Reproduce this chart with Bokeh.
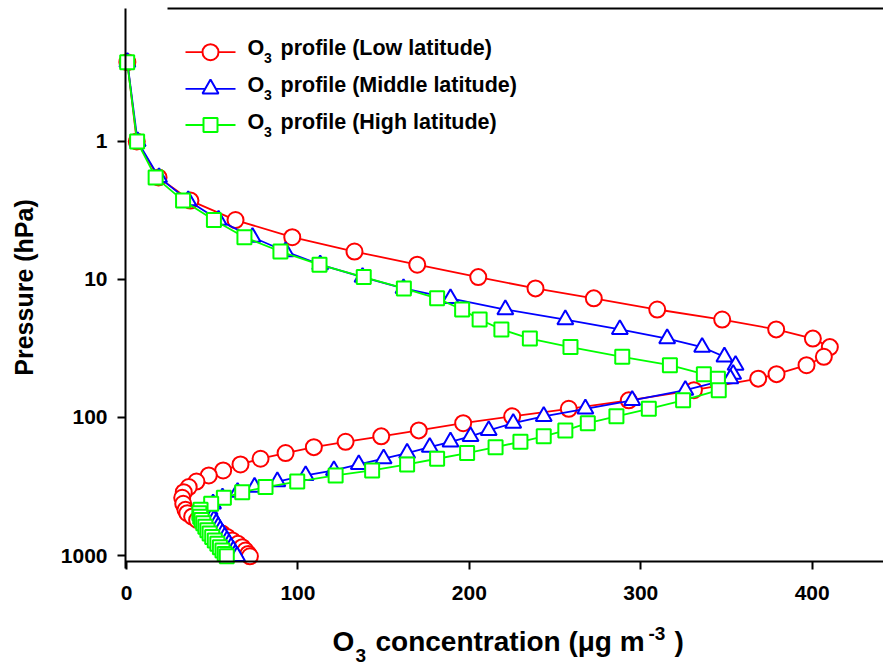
import math
from bokeh.plotting import figure
from bokeh.models import (Range1d, LinearScale, FixedTicker, BasicTickFormatter,
                          LinearAxis, LogAxis, Label)
from bokeh.embed import file_html
from bokeh.resources import INLINE

# ---------------- data ----------------
pressure_hpa = [0.266, 1.0, 1.82, 2.68, 3.71, 4.94, 6.27, 7.81, 9.61, 11.6,
                13.7, 16.5, 19.5, 23.0, 26.8, 30.9, 36.3, 41.8, 48.5, 52.3,
                63.4, 75.1, 86.5, 98.0, 110, 124, 137, 150, 164, 181,
                199, 219, 242, 263, 291, 319, 348, 382, 422, 467,
                494, 523, 553, 585, 619, 656, 694, 734, 777, 823,
                871, 921, 975, 1013]

o3_low = [0.5, 6, 18.7, 37.3, 63.6, 96.7, 133, 169.6, 205.2, 238.6,
          272.6, 309.6, 347.5, 379, 400.4, 410.3, 406.8, 396.7, 379.2, 368.5,
          331, 293, 258, 225, 196.4, 170.5, 148.6, 127.8, 109.3, 92.8,
          78.2, 66.5, 56.4, 48, 40.8, 36.3, 33.4, 32.5, 33.1, 34.4,
          35.5, 38.3, 41.2, 44.7, 48, 51.9, 55.8, 58.7, 61.7, 65,
          67.5, 69.4, 71, 72]

o3_mid = [0.5, 6.5, 19, 36, 53.7, 73.5, 92.8, 113, 137.7, 161.6,
          189, 221, 256, 287.8, 315.4, 335.8, 348.8, 355.3, 353.9, 352.3,
          326, 295, 267.7, 243.4, 225.6, 211.3, 200.7, 189, 176.9, 163.7,
          150, 135.5, 121, 104.5, 88, 74.7, 64.8, 56, 50.5, 48.5,
          49, 50, 51, 52.3, 53.5, 54.7, 56, 57.3, 58.6, 59.8,
          61, 62.3, 63.5, 64.5]

o3_high = [0.4, 6.2, 17, 33, 51, 68.8, 89.8, 112.6, 138.4, 161.8,
           181.2, 195.8, 206, 218.7, 235.3, 259, 289.2, 317, 336.8, 345,
           345.5, 324.7, 304.7, 285.8, 269.1, 256, 243.4, 229.8, 215.3, 198.7,
           181.2, 163.7, 143.3, 122, 99.6, 81.1, 67.5, 56.8, 49.4, 43.2,
           42.5, 43, 43.8, 44.8, 46, 47.2, 48.5, 50, 51.5, 53,
           54.5, 56, 57.3, 58.5]

series_names = ["profile (Low latitude)", "profile (Middle latitude)", "profile (High latitude)"]
x_ticks = [0, 100, 200, 300, 400]
y_ticks = [1, 10, 100, 1000]

# axis extents (data units) of the drawn box
X_MIN, X_MAX = -0.58, 441.6
Y_TOP, Y_BOTTOM = 0.1087, 1105.6
TOP_LINE_START = 23.9          # the top border starts a little right of the y axis
LEFT_LINE_END = 1243.0         # the y axis line pokes slightly below the x axis

# ---------------- figure ----------------
# The frame covers the whole canvas; the axes are placed at fixed data
# locations so that titles and legend text can live inside the frame.
W, H = 883, 666
FONT = "Liberation Sans"
BASE_K = 0.39   # correction: Bokeh's label anchor sits ~0.39*size below the glyph baseline

p = figure(width=W, height=H, output_backend="svg", toolbar_location=None,
           y_axis_type="log", x_axis_location=None, y_axis_location=None,
           x_range=Range1d(-73.50, 441.60), y_range=Range1d(6373.0, 0.09512),
           min_border=0, min_border_left=0, min_border_right=0,
           min_border_top=0, min_border_bottom=0)
p.outline_line_color = None
p.grid.visible = False
p.background_fill_color = "white"
p.border_fill_color = "white"

# pixel helper ranges for annotation placement
p.extra_x_ranges = {"px": Range1d(0, W)}
p.extra_y_ranges = {"px": Range1d(H, 0)}
p.extra_y_scales = {"px": LinearScale()}


def style_axis(ax):
    ax.axis_line_width = 2
    ax.axis_line_color = "black"
    ax.major_tick_line_width = 2
    ax.major_tick_line_color = "black"
    ax.major_tick_in = 0
    ax.major_tick_out = 8
    ax.minor_tick_line_color = None
    ax.major_label_text_font = FONT
    ax.major_label_text_font_style = "bold"
    ax.major_label_text_font_size = "21px"
    ax.major_label_text_color = "black"


xaxis = LinearAxis(ticker=FixedTicker(ticks=x_ticks), fixed_location=Y_BOTTOM,
                   bounds=(X_MIN, X_MAX), major_label_standoff=16)
style_axis(xaxis)
p.add_layout(xaxis, "below")

yaxis = LogAxis(ticker=FixedTicker(ticks=y_ticks, minor_ticks=[]),
                formatter=BasicTickFormatter(use_scientific=False),
                fixed_location=X_MIN, bounds=(Y_TOP, LEFT_LINE_END),
                major_label_standoff=10)
style_axis(yaxis)
p.add_layout(yaxis, "left")

top_axis = LinearAxis(ticker=FixedTicker(ticks=[]), fixed_location=Y_TOP,
                      bounds=(TOP_LINE_START, X_MAX), axis_line_width=2,
                      axis_line_color="black", major_tick_line_color=None,
                      minor_tick_line_color=None)
p.add_layout(top_axis, "above")

# ---------------- data series ----------------
styles = [
    dict(color="#FF0000", marker="circle", size=16),
    dict(color="#0000FF", marker="triangle", size=16),
    dict(color="#00FF00", marker="square", size=14),
]
for vals, st in zip([o3_low, o3_mid, o3_high], styles):
    p.line(vals, pressure_hpa, line_color=st["color"], line_width=1.8)
    p.scatter(vals, pressure_hpa, marker=st["marker"], size=st["size"],
              line_color=st["color"], line_width=2, fill_color="white")


def add_text(txt, x, y, fs, rotated=False, align="left"):
    """Place text so that its glyph baseline lands at pixel (x, y)."""
    if rotated:
        x, angle = x - BASE_K * fs, math.pi / 2
    else:
        y, angle = y - BASE_K * fs, 0.0
    p.add_layout(Label(x=x, y=y, x_range_name="px", y_range_name="px",
                       text=txt, text_font=FONT, text_font_style="bold",
                       text_font_size=f"{fs}px", text_color="black",
                       angle=angle, text_align=align,
                       text_baseline="alphabetic"))


# ---------------- legend (manual, pixel coords) ----------------
leg_line_y = [51.7, 88.3, 124.5]
leg_base = [56, 92.5, 129.5]
for st, ly, bl, name in zip(styles, leg_line_y, leg_base, series_names):
    p.line([185, 235], [ly, ly], x_range_name="px", y_range_name="px",
           line_color=st["color"], line_width=1.8)
    p.scatter([210], [ly], x_range_name="px", y_range_name="px",
              marker=st["marker"], size=st["size"], line_color=st["color"],
              line_width=2, fill_color="white")
    add_text("O", 247, bl, 21.5)
    add_text("3", 263.5, bl + 7, 14)
    add_text(name, 280, bl, 21.5)

# ---------------- axis titles ----------------
add_text("O", 332, 651.5, 28)
add_text("3", 355, 662, 19)
add_text("concentration (\u03bcg m", 375, 651.5, 28)
add_text("-3", 648, 640.5, 19)
add_text(")", 674, 651.5, 28)

add_text("Pressure (hPa)", 33, 287, 25, rotated=True, align="center")

open("out.html", "w").write(file_html(p, INLINE))
